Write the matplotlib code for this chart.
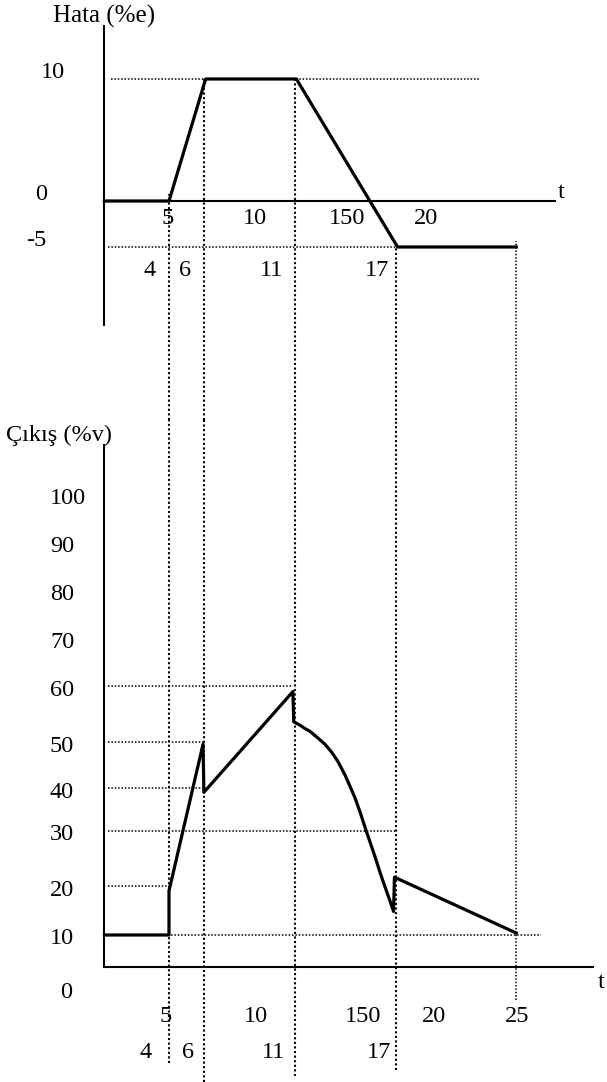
import numpy as np
import matplotlib
matplotlib.use('Agg')
import matplotlib.pyplot as plt
from matplotlib.transforms import offset_copy

plt.rcParams['font.family'] = ['Liberation Serif', 'DejaVu Serif']
FS = 17.5

# --- data -------------------------------------------------------------
# time instants where the drawing changes (dotted guides)
EVENT_T = [5.1, 7.1, 12.3, 18.1, 25.0]

# error (Hata %e)
ERR_T = [1.4, 5.1, 7.2, 12.4, 18.2, 25.0]
ERR_V = [0, 0, 10, 10, -5, -5]
ERR_TICKS = [10, 0, -5]
ERR_TICK_LABELS = ['10', '0', '-5']
ERR_GUIDE_FROM = [0.6, 10, 10, -5, -4.4]

# controller output (Çıkış %v)
OUT_T = [1.4, 5.1, 5.1, 7.05, 7.1, 12.2, 12.25, 12.61, 12.89, 13.18, 13.64,
         14.04, 14.44, 14.79, 15.19, 15.47, 15.76, 16.05, 16.33, 16.62,
         16.91, 17.19, 17.48, 17.77, 17.97, 18.02, 25.0]
OUT_V = [10, 10, 19, 49.5, 39, 59, 53.6, 53.0, 52.4, 51.9, 50.7,
         49.5, 47.7, 45.7, 42.8, 40.4, 37.7, 34.4, 30.9, 28.0,
         25.3, 22.5, 19.8, 16.9, 14.8, 21.6, 10.4]
OUT_TICKS = [100, 90, 80, 70, 60, 50, 40, 30, 20, 10]

# time tick labels (as written on the sketch)
T_ROW1 = [5, 10, 15, 20]
T_ROW1_LABELS = ['5', '10', '150', '20']
T_ROW2 = [4, 6, 11, 17]
T_ROW2_LABELS = ['4', '6', '11', '17']

# --- layout (sketch is not to scale, so calibrate the axes) -------------
W, H = 607, 1082
PX_PER_T, T0_PX = 17.45, 80.0
XLIM = (-T0_PX / PX_PER_T, (W - T0_PX) / PX_PER_T)
SPLIT = 420  # pixel row between the two panels

ERR_CAL_V = [-60, -5, 0, 10, 60]
ERR_CAL_ROW = [753, 247, 201, 79, -531]
OUT_CAL_V = [-60, 0, 10, 20, 30, 40, 50, 60, 70, 80, 90, 100, 200]
OUT_CAL_ROW = [1249, 967, 935, 886, 831, 788, 742, 686, 638, 590, 543, 495, 15]


def sketch_scale(vals, rows):
    v = np.asarray(vals, float)
    p = -np.asarray(rows, float)

    def fwd(y):
        return np.interp(y, v, p)

    def inv(y):
        return np.interp(y, p, v)
    return fwd, inv


def setup(ax, cal_v, cal_row, rows, yaxis_rows, t_axis, x_end):
    fwd, inv = sketch_scale(cal_v, cal_row)
    ax.set_yscale('function', functions=(fwd, inv))
    ax.set_xlim(*XLIM)
    ax.set_ylim(inv(-rows[1]), inv(-rows[0]))
    ax.set_xticks([])
    ax.set_yticks([])
    ax.patch.set_alpha(0)
    for s in ['top', 'right']:
        ax.spines[s].set_visible(False)
    ax.spines['left'].set_position(('data', t_axis))
    ax.spines['bottom'].set_position(('data', 0))
    top, bot = inv(-yaxis_rows[0]), inv(-yaxis_rows[1])
    ax.spines['left'].set_bounds(bot, top)
    ax.spines['bottom'].set_bounds(t_axis, x_end)
    for s in ['left', 'bottom']:
        ax.spines[s].set_linewidth(1.5)
    return top


def off(ax, fig, dx=0, dy=0):
    return offset_copy(ax.transData, fig=fig, x=dx, y=dy, units='dots')


fig = plt.figure(figsize=(W / 100, H / 100), dpi=100)
ax1 = fig.add_axes([0, 1 - SPLIT / H, 1, SPLIT / H])
ax2 = fig.add_axes([0, 0, 1, 1 - SPLIT / H])

guide = dict(color='black', linestyle=(0, (1, 1.2)))

# ---------------- error panel ----------------
top1 = setup(ax1, ERR_CAL_V, ERR_CAL_ROW, (0, SPLIT), (26, 325), 1.4, 27.2)
ax1.plot(ERR_T, ERR_V, color='black', lw=2.3)
ax1.hlines(10, 1.8, 22.9, lw=1.1, **guide)
ax1.hlines(-5, 1.6, EVENT_T[3], lw=1.1, **guide)
ylo = ax1.get_ylim()[0]
for i, (t, v0) in enumerate(zip(EVENT_T, ERR_GUIDE_FROM)):
    ax1.vlines(t, ylo, v0, lw=1.1 if i == 4 else 1.5, **guide)

for v, s, tx in zip(ERR_TICKS, ERR_TICK_LABELS, [-1.55, -2.25, -2.5]):
    ax1.text(tx, v, s, ha='center', va='center', fontsize=FS,
             transform=off(ax1, fig, dy=7))
for t, s, dx in zip(T_ROW1, T_ROW1_LABELS, [0, 0, 5, -3]):
    ax1.text(t, 0, s, ha='center', va='center', fontsize=FS,
             transform=off(ax1, fig, dx=dx, dy=-18))
for t, s in zip(T_ROW2, T_ROW2_LABELS):
    ax1.text(t, 0, s, ha='center', va='center', fontsize=FS,
             transform=off(ax1, fig, dy=-70))
ax1.text(1.4, top1, 'Hata (%e)', ha='center', va='bottom', fontsize=FS + 0.5,
         transform=off(ax1, fig, dy=-2))
ax1.text(27.2, 0, 't', ha='left', va='center', fontsize=FS,
         transform=off(ax1, fig, dx=3, dy=9))

# ---------------- output panel ----------------
top2 = setup(ax2, OUT_CAL_V, OUT_CAL_ROW, (SPLIT, H), (445, 967), 1.35, 29.4)
ax2.plot(OUT_T, OUT_V, color='black', lw=2.3)
hg = [(60, 1.6, 12.2), (50, 1.6, 7.05), (40, 1.6, 7.1),
      (30, 1.6, EVENT_T[3]), (20, 1.6, 5.1), (10, 5.2, 26.4)]
for v, a, b in hg:
    ax2.hlines(v, a, b, lw=1.1, **guide)
end_frac = [0.029, 0.0, 0.009, 0.018, 0.124]
for i, (t, f) in enumerate(zip(EVENT_T, end_frac)):
    ax2.axvline(t, f, 1, lw=1.1 if i == 4 else 1.5, **guide)

for v in OUT_TICKS:
    ax2.text(-1.72, v, str(v), ha='left', va='center', fontsize=FS,
             transform=off(ax2, fig, dy=-4))
ax2.text(-1.15, 0, '0', ha='left', va='center', fontsize=FS,
         transform=off(ax2, fig, dy=-26))
for t, s, dx in zip(T_ROW1 + [25], T_ROW1_LABELS + ['25'], [-2, 1, 21, 5, 1]):
    ax2.text(t, 0, s, ha='center', va='center', fontsize=FS,
             transform=off(ax2, fig, dx=dx, dy=-49))
for t, s, dx in zip(T_ROW2, T_ROW2_LABELS, [-4, 3, 2, 2]):
    ax2.text(t, 0, s, ha='center', va='center', fontsize=FS,
             transform=off(ax2, fig, dx=dx, dy=-86))
ax2.text(1.35, top2, 'Çıkış (%v)', ha='right', va='center', fontsize=FS,
         transform=off(ax2, fig, dx=8, dy=10))
ax2.text(29.4, 0, 't', ha='left', va='center', fontsize=FS,
         transform=off(ax2, fig, dx=5, dy=-15))

fig.savefig('out.png', dpi=100)
